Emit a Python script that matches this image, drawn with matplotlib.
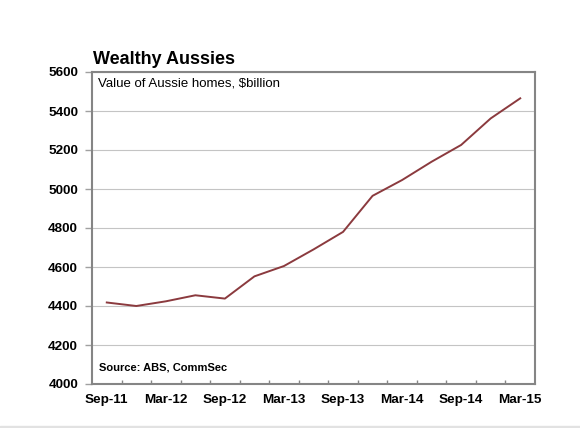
import matplotlib
matplotlib.use("Agg")
import matplotlib.pyplot as plt
from matplotlib.patches import Rectangle

plt.rcParams['font.family'] = ['Liberation Sans', 'DejaVu Sans']

quarters = ["Sep-11", "Dec-11", "Mar-12", "Jun-12", "Sep-12", "Dec-12", "Mar-13", "Jun-13",
            "Sep-13", "Dec-13", "Mar-14", "Jun-14", "Sep-14", "Dec-14", "Mar-15"]
values = [4418, 4400, 4424, 4455, 4438, 4552, 4605, 4690, 4780, 4965, 5046, 5140, 5226, 5362, 5465]
y_ticks = [4000, 4200, 4400, 4600, 4800, 5000, 5200, 5400, 5600]

fig = plt.figure(figsize=(5.8, 4.28), dpi=100)
ax = fig.add_axes([92/580, 44/428, (535-92)/580, (384-72)/428])

x = list(range(len(quarters)))
ax.plot(x, values, color='#8b3a3e', lw=1.4, zorder=3)

ax.set_xlim(-0.5, len(quarters) - 0.5)
ax.set_ylim(4000, 5600)
ax.set_yticks(y_ticks)
ax.set_yticklabels([str(v) for v in y_ticks])
ax.grid(axis='y', color='#c4c4c4', lw=0.8, zorder=0)

label_pos = [i for i in x if i % 2 == 0]
ax.set_xticks(label_pos)
ax.set_xticklabels([quarters[i] for i in label_pos])
ax.set_xticks([i + 0.5 for i in x[:-1]], minor=True)
ax.tick_params(axis='x', which='major', length=0, pad=7, labelsize=9.7)
ax.tick_params(axis='x', which='minor', direction='in', length=3, color='#858585', width=1)
ax.tick_params(axis='y', which='major', direction='out', length=5, width=1, color='#a0a0a0',
               pad=5, labelsize=9.7)
for lab in ax.get_xticklabels() + ax.get_yticklabels():
    lab.set_fontweight('bold')

for s in ax.spines.values():
    s.set_color('#858585')
    s.set_linewidth(1.5)

fig.text(93/580, 1 - 64/428, "Wealthy Aussies", fontsize=13, fontweight='bold',
         ha='left', va='baseline')
ax.text(98/580, 1 - 84/428, "Value of Aussie homes, $billion", fontsize=9.5,
        ha='left', va='center', transform=fig.transFigure)
ax.text(99/580, 1 - 368/428, "Source: ABS, CommSec", fontsize=8, fontweight='bold',
        ha='left', va='center', transform=fig.transFigure)

fig.patches.append(Rectangle((0, 0), 1, 2/428, transform=fig.transFigure,
                             color='#e2e2e2', zorder=0))

fig.savefig("out.png", dpi=100)
